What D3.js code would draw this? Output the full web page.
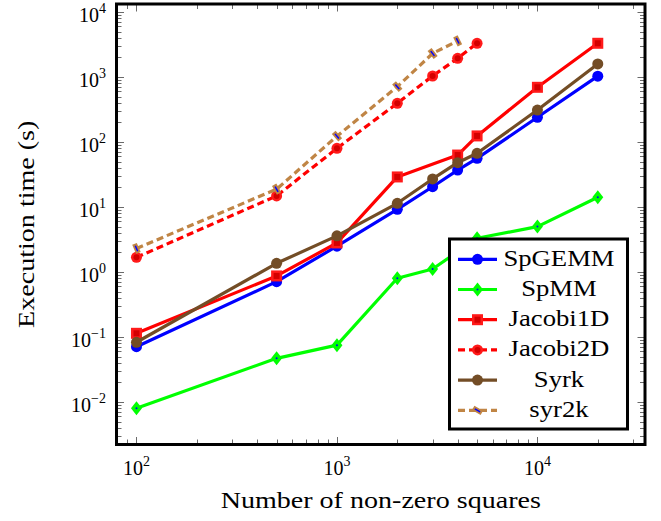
<!DOCTYPE html>
<html>
<head>
<meta charset="utf-8">
<script src="https://cdn.jsdelivr.net/npm/d3@7"></script>
<style>
body { margin: 0; background: #fff; }
</style>
</head>
<body>
<script>
(function(){

var width = 661,
	height = 521,
	box = {left: 116.5, right: 645, top: 4, bottom: 444.5},
	fontfamily = "'Liberation Serif', 'Times New Roman', serif";

// data

var names = ["SpGEMM", "SpMM", "Jacobi1D", "Jacobi2D", "Syrk", "syr2k"];

var spgemm_x = [100, 500, 1000, 2000, 3000, 4000, 5000, 10000, 20000],
	spgemm_y = [0.071, 0.71, 2.5, 9.2, 20.5, 37, 56, 240, 1030];

var spmm_x = [100, 500, 1000, 2000, 3000, 5000, 10000, 20000],
	spmm_y = [0.008, 0.047, 0.075, 0.8, 1.11, 3.3, 5.0, 14.1];

var jacobi1d_x = [100, 500, 1000, 2000, 4000, 5000, 10000, 20000],
	jacobi1d_y = [0.114, 0.87, 2.8, 29, 63, 124, 694, 3300];

var jacobi2d_x = [100, 500, 1000, 2000, 3000, 4000, 5000],
	jacobi2d_y = [1.68, 14.8, 80, 394, 1036, 1940, 3300];

var syrk_x = [100, 500, 1000, 2000, 3000, 4000, 5000, 10000, 20000],
	syrk_y = [0.083, 1.36, 3.6, 11.4, 27, 48, 67, 310, 1590];

var syr2k_x = [100, 500, 1000, 2000, 3000, 4000],
	syr2k_y = [2.3, 18.8, 123, 710, 2300, 3600];

var xticks = [2, 3, 4],
	yticks = [-2, -1, 0, 1, 2, 3, 4];

var xtitle = "Number of non-zero squares",
	ytitle = "Execution time (s)";

// styles per series

var series = [
	{x: spgemm_x, y: spgemm_y, color: "#0000ff", dash: null, mark: "circle"},
	{x: spmm_x, y: spmm_y, color: "#00ff00", dash: null, mark: "diamond"},
	{x: jacobi1d_x, y: jacobi1d_y, color: "#ff0000", dash: null, mark: "square"},
	{x: jacobi2d_x, y: jacobi2d_y, color: "#ff0000", dash: "7,4", mark: "rcircle"},
	{x: syrk_x, y: syrk_y, color: "#734d26", dash: null, mark: "circle"},
	{x: syr2k_x, y: syr2k_y, color: "#c08545", dash: "7,4", mark: "thin"}
];
series.forEach(function(s, i){
	s.name = names[i];
	s.points = s.x.map(function(d, j){ return [d, s.y[j]]; });
});

var X = d3.scaleLog().domain([79.5, 34400]).range([box.left, box.right]);
var Y = d3.scaleLog().domain([0.00222, 13270]).range([box.bottom, box.top]);

var svg = d3.select("body").append("svg")
	.attr("width", width)
	.attr("height", height)
	.style("font-family", fontfamily);

// widen Times a bit towards Computer Modern proportions
function stretch(sel, f){
	sel.each(function(){
		var l = this.getComputedTextLength();
		d3.select(this).attr("textLength", l * f).attr("lengthAdjust", "spacingAndGlyphs");
	});
}

// ticks, all four sides, inward

var majorx = xticks.map(function(e){ return Math.pow(10, e); });
var minorx = [];
[1, 2, 3, 4].forEach(function(e){
	for (var k = 2; k < 10; k++) {
		var v = k * Math.pow(10, e);
		if (v >= X.domain()[0] && v <= X.domain()[1]) minorx.push(v);
	}
});
var majory = yticks.map(function(e){ return Math.pow(10, e); });
var minory = [];
[-3, -2, -1, 0, 1, 2, 3].forEach(function(e){
	for (var k = 2; k < 10; k++) {
		var v = k * Math.pow(10, e);
		if (v >= Y.domain()[0] && v <= Y.domain()[1]) minory.push(v);
	}
});

var ticks = svg.append("g").attr("stroke", "#6a6a6a").attr("stroke-width", 1);

function xt(vals, len){
	vals.forEach(function(v){
		var x = Math.round(X(v)) + 0.5;
		ticks.append("line").attr("x1", x).attr("x2", x).attr("y1", box.bottom).attr("y2", box.bottom - len);
		ticks.append("line").attr("x1", x).attr("x2", x).attr("y1", box.top).attr("y2", box.top + len);
	});
}
function yt(vals, len){
	vals.forEach(function(v){
		var y = Math.round(Y(v)) + 0.5;
		ticks.append("line").attr("y1", y).attr("y2", y).attr("x1", box.left).attr("x2", box.left + len);
		ticks.append("line").attr("y1", y).attr("y2", y).attr("x1", box.right).attr("x2", box.right - len);
	});
}
xt(majorx, 7.5); xt(minorx, 5);
yt(majory, 7.5); yt(minory, 5);

// lines

var line = d3.line()
	.x(function(d){ return X(d[0]); })
	.y(function(d){ return Y(d[1]); });

function marker(g, s, x, y, angle){
	if (s.mark == "circle") {
		g.append("circle").attr("cx", x).attr("cy", y).attr("r", 5.5).attr("fill", s.color);
	} else if (s.mark == "rcircle") {
		g.append("circle").attr("cx", x).attr("cy", y).attr("r", 5.5).attr("fill", "#ff1a1a");
		g.append("circle").attr("cx", x).attr("cy", y).attr("r", 3).attr("fill", "#d40000");
	} else if (s.mark == "square") {
		g.append("rect").attr("x", x - 5.5).attr("y", y - 5.5).attr("width", 11).attr("height", 11).attr("fill", "#ff1a1a");
		g.append("rect").attr("x", x - 3).attr("y", y - 3).attr("width", 6).attr("height", 6).attr("fill", "#d40000");
	} else if (s.mark == "diamond") {
		g.append("path").attr("d", "M" + x + "," + (y - 7) + "L" + (x + 5.5) + "," + y + "L" + x + "," + (y + 7) + "L" + (x - 5.5) + "," + y + "Z")
			.attr("fill", s.color);
		g.append("circle").attr("cx", x).attr("cy", y).attr("r", 1).attr("fill", "#0000ff");
	} else if (s.mark == "thin") {
		var m = g.append("g").attr("transform", "translate(" + x + "," + y + ") rotate(" + (angle + 90) + ")");
		m.append("rect").attr("x", -5).attr("y", -2.5).attr("width", 10).attr("height", 5).attr("fill", s.color);
		m.append("line").attr("x1", -3).attr("x2", 3).attr("y1", 0).attr("y2", 0)
			.attr("stroke", "#0000ff").attr("stroke-width", 1.5);
	}
}

series.forEach(function(s){
	var g = svg.append("g");
	g.append("path")
		.attr("d", line(s.points))
		.attr("fill", "none")
		.attr("stroke", s.color)
		.attr("stroke-width", 3.2)
		.attr("stroke-linejoin", "round")
		.attr("stroke-dasharray", s.dash);
	s.points.forEach(function(d, i){
		var a = s.points[Math.min(i + 1, s.points.length - 1)], b = s.points[Math.max(i - 1, 0)];
		var angle = Math.atan2(Y(a[1]) - Y(b[1]), X(a[0]) - X(b[0])) * 180 / Math.PI;
		marker(g, s, X(d[0]), Y(d[1]), angle);
	});
});

// frame

svg.append("rect")
	.attr("x", box.left).attr("y", box.top)
	.attr("width", box.right - box.left).attr("height", box.bottom - box.top)
	.attr("fill", "none").attr("stroke", "#000").attr("stroke-width", 3);

// tick labels

function sup(e){ return e < 0 ? "\u2212" + (-e) : "" + e; }

var xl = svg.selectAll(".xl").data(xticks).enter().append("text")
	.attr("class", "xl")
	.attr("x", function(d){ return X(Math.pow(10, d)); })
	.attr("y", box.bottom + 30.5)
	.attr("text-anchor", "middle")
	.style("font-size", "20px");
xl.append("tspan").text("10");
xl.append("tspan").attr("dy", -9).style("font-size", "14px").text(function(d){ return sup(d); });

var yl = svg.selectAll(".yl").data(yticks).enter().append("text")
	.attr("class", "yl")
	.attr("x", 106)
	.attr("y", function(d){ return Y(Math.pow(10, d)) + 10; })
	.attr("text-anchor", "end")
	.style("font-size", "20px");
yl.append("tspan").text("10");
yl.append("tspan").attr("dy", -9).style("font-size", "14px").text(function(d){ return sup(d); });

// axis titles

svg.append("text")
	.attr("x", (box.left + box.right) / 2)
	.attr("y", 508)
	.attr("text-anchor", "middle")
	.style("font-size", "23px")
	.text(xtitle)
	.call(stretch, 1.22);

svg.append("text")
	.attr("transform", "translate(34," + (box.top + box.bottom) / 2 + ") rotate(-90)")
	.attr("text-anchor", "middle")
	.style("font-size", "23px")
	.text(ytitle)
	.call(stretch, 1.22);

// legend

var legend = svg.append("g");
legend.append("rect")
	.attr("x", 449.5).attr("y", 239)
	.attr("width", 178).attr("height", 190)
	.attr("fill", "#fff").attr("stroke", "#000").attr("stroke-width", 3);

series.forEach(function(s, i){
	var y = 259.3 + i * 30.2;
	var g = legend.append("g");
	g.append("line")
		.attr("x1", 458).attr("x2", 497).attr("y1", y).attr("y2", y)
		.attr("stroke", s.color).attr("stroke-width", 3.2)
		.attr("stroke-dasharray", s.dash);
	marker(g, s, 477.5, y, -60);
	g.append("text")
		.attr("x", 559).attr("y", y + 6.5)
		.attr("text-anchor", "middle")
		.style("font-size", "23px")
		.text(s.name)
		.call(stretch, 1.16);
});

})()
</script>
</body>
</html>
